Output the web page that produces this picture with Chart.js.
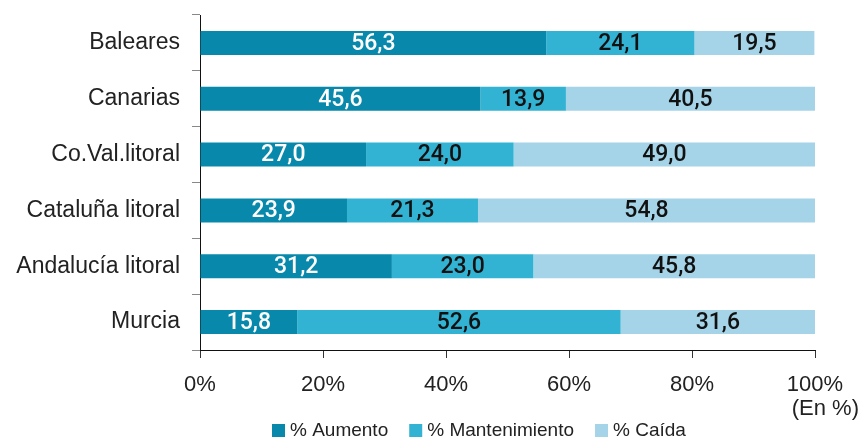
<!DOCTYPE html>
<html>
<head>
<meta charset="utf-8">
<script src="https://cdn.jsdelivr.net/npm/chart.js@4.4.1/dist/chart.umd.min.js"></script>
<style>
  html, body { margin: 0; padding: 0; background: #ffffff; }
  #wrap { width: 860px; height: 438px; position: relative; }
</style>
</head>
<body>
<div id="wrap"><canvas id="c" width="860" height="438"></canvas></div>
<script>
const categories = ['Baleares', 'Canarias', 'Co.Val.litoral', 'Cataluña litoral', 'Andalucía litoral', 'Murcia'];
const seriesNames = ['% Aumento', '% Mantenimiento', '% Caída'];
const aumento = [56.3, 45.6, 27.0, 23.9, 31.2, 15.8];
const mantenimiento = [24.1, 13.9, 24.0, 21.3, 23.0, 52.6];
const caida = [19.5, 40.5, 49.0, 54.8, 45.8, 31.6];
const xTicks = [0, 20, 40, 60, 80, 100];
const unitNote = '(En %)';

const colors = ['#0889ab', '#33b3d3', '#a5d4e8'];
const labelColors = ['#ffffff', '#111111', '#111111'];
const AXIS_FONT = '"Liberation Sans", Arial, sans-serif';

const valueLabels = {
  id: 'valueLabels',
  afterDatasetsDraw(chart) {
    const ctx = chart.ctx;
    ctx.save();
    ctx.font = '500 23px Roboto, "Liberation Sans", sans-serif';
    ctx.textAlign = 'center';
    ctx.textBaseline = 'middle';
    chart.data.datasets.forEach((ds, di) => {
      const meta = chart.getDatasetMeta(di);
      meta.data.forEach((el, i) => {
        const v = ds.data[i];
        const cx = (el.x + el.base) / 2;
        ctx.fillStyle = labelColors[di];
        ctx.fillText(v.toFixed(1).replace('.', ','), cx, el.y + 1);
      });
    });
    ctx.restore();
  }
};

const customLegend = {
  id: 'customLegend',
  afterDraw(chart) {
    const ctx = chart.ctx;
    ctx.save();
    ctx.font = '19px ' + AXIS_FONT;
    ctx.textBaseline = 'middle';
    ctx.textAlign = 'left';
    let x = 272;
    const y = 430;
    chart.data.datasets.forEach((ds) => {
      ctx.fillStyle = ds.backgroundColor;
      ctx.fillRect(x, y - 6, 13, 13);
      x += 13 + 5;
      ctx.fillStyle = '#222222';
      ctx.fillText(ds.label, x, y + 1);
      x += ctx.measureText(ds.label).width + 21;
    });
    ctx.font = '22px ' + AXIS_FONT;
    ctx.textAlign = 'right';
    ctx.fillText(unitNote, 859, 409);
    ctx.restore();
  }
};

new Chart(document.getElementById('c'), {
  type: 'bar',
  data: {
    labels: categories,
    datasets: [
      { label: seriesNames[0], data: aumento, backgroundColor: colors[0] },
      { label: seriesNames[1], data: mantenimiento, backgroundColor: colors[1] },
      { label: seriesNames[2], data: caida, backgroundColor: colors[2] }
    ]
  },
  options: {
    indexAxis: 'y',
    responsive: false,
    animation: false,
    devicePixelRatio: 1,
    layout: { padding: { top: 15, right: 45, left: 0, bottom: 0 } },
    datasets: { bar: { barPercentage: 0.43, categoryPercentage: 1.0, borderWidth: 0 } },
    plugins: { legend: { display: false }, tooltip: { enabled: false } },
    scales: {
      x: {
        stacked: true,
        min: 0, max: 100,
        afterBuildTicks: (s) => { s.ticks = xTicks.map(v => ({ value: v })); },
        afterFit: (s) => { s.height = 88; s.paddingLeft = 0; s.paddingRight = 0; },
        border: { display: true, color: '#111111', width: 1 },
        grid: { drawOnChartArea: false, drawTicks: true, tickLength: 8, color: '#333333' },
        ticks: { color: '#222222', font: { family: AXIS_FONT, size: 22 }, padding: 14,
                 callback: (v) => v + '%' }
      },
      y: {
        stacked: true,
        afterFit: (s) => { s.width = 200; s.paddingTop = 0; s.paddingBottom = 0; },
        border: { display: true, color: '#111111', width: 1 },
        grid: { offset: true, drawOnChartArea: false, drawTicks: true, tickLength: 8, color: '#888888' },
        ticks: { color: '#222222', font: { family: AXIS_FONT, size: 23 }, padding: 12 }
      }
    }
  },
  plugins: [valueLabels, customLegend]
});
</script>
</body>
</html>
